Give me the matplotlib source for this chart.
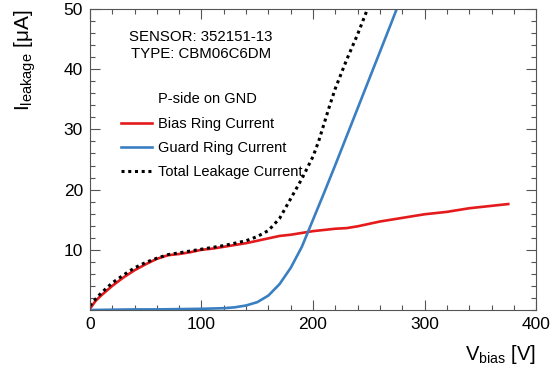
import matplotlib
matplotlib.use('Agg')
import matplotlib.pyplot as plt
from matplotlib.ticker import MultipleLocator

plt.rcParams['font.family'] = ['Liberation Sans', 'DejaVu Sans']

# bias ring current (red)
v_bias = [0, 5, 10, 20, 30, 40, 50, 60, 70, 80, 90, 100, 110, 120, 130, 140, 150, 160,
          170, 180, 190, 200, 210, 220, 230, 240, 250, 260, 270, 280, 290, 300, 310,
          320, 330, 340, 350, 360, 370, 375]
i_bias = [0.2, 1.5, 2.4, 4.0, 5.4, 6.6, 7.6, 8.5, 9.1, 9.3, 9.6, 10.0, 10.2, 10.5, 10.8,
          11.1, 11.5, 11.9, 12.3, 12.5, 12.8, 13.1, 13.3, 13.5, 13.6, 13.9, 14.3, 14.7,
          15.0, 15.3, 15.6, 15.9, 16.1, 16.3, 16.6, 16.9, 17.1, 17.3, 17.5, 17.6]

# guard ring current (blue)
v_guard = [0, 20, 40, 60, 80, 100, 110, 120, 130, 140, 150, 160, 170, 180, 190, 200, 210,
           220, 230, 240, 250, 260, 270, 275]
i_guard = [0.0, 0.05, 0.1, 0.1, 0.15, 0.2, 0.25, 0.3, 0.45, 0.75, 1.3, 2.4, 4.3, 7.0,
           10.5, 15.0, 19.5, 24.1, 28.8, 33.5, 38.2, 42.9, 47.6, 50.0]

# total leakage current (black dotted)
v_total = [0, 5, 10, 20, 30, 40, 50, 60, 70, 80, 90, 100, 110, 120, 130, 140, 150, 160,
           170, 180, 190, 200, 205, 210, 215, 220, 230, 240, 248]
i_total = [0.7, 1.8, 2.8, 4.5, 5.8, 7.0, 7.9, 8.6, 9.2, 9.5, 9.8, 10.1, 10.4, 10.7, 11.1,
           11.5, 12.2, 13.2, 15.2, 18.5, 21.8, 25.5, 28.0, 31.0, 34.0, 36.8, 41.5, 45.8,
           49.6]

fig = plt.figure(figsize=(5.55, 3.68), dpi=100)
ax = fig.add_axes([0.162, 0.1576, 0.804, 0.818])

ax.plot(v_bias, i_bias, color='#e41a1c', lw=1.9, label='Bias Ring Current')
ax.plot(v_guard, i_guard, color='#3a7fc1', lw=1.9, label='Guard Ring Current')
ax.plot(v_total, i_total, color='black', lw=2.2, ls=(0, (1, 1.2)), label='Total Leakage Current')

ax.set_xlim(0, 400)
ax.set_ylim(0, 50)
ax.xaxis.set_major_locator(MultipleLocator(100))
ax.xaxis.set_minor_locator(MultipleLocator(20))
ax.yaxis.set_major_locator(MultipleLocator(10))
ax.yaxis.set_minor_locator(MultipleLocator(2))
ax.set_yticks([10, 20, 30, 40, 50])
ax.tick_params(which='both', direction='in', top=True, right=True, color='#555555',
               labelsize=12.5, width=0.8)
ax.tick_params(which='major', length=7, pad=5)
ax.tick_params(which='minor', length=3.5)
for s in ax.spines.values():
    s.set_color('#555555')
    s.set_linewidth(0.8)

ax.set_xlabel(r'$\mathregular{V_{bias}}$ [V]', fontsize=14.5, loc='right')
ax.set_ylabel(r'$\mathregular{I_{leakage}}$ [$\mathregular{\mu}$A]', fontsize=15, loc='top')
ax.xaxis.set_label_coords(1.0, -0.11)
ax.yaxis.set_label_coords(-0.117, 1.0)

ax.text(0.249, 0.93, 'SENSOR: 352151-13\nTYPE: CBM06C6DM', transform=ax.transAxes,
        ha='center', va='top', fontsize=10.8, linespacing=1.28)
ax.text(0.153, 0.70, 'P-side on GND', transform=ax.transAxes, ha='left', va='center',
        fontsize=10.5)
ax.legend(loc='upper left', bbox_to_anchor=(0.07, 0.642), frameon=False, fontsize=10.5,
          handlelength=2.1, handletextpad=0.45, labelspacing=0.69, borderpad=0,
          borderaxespad=0)

fig.savefig('out.png', dpi=100)
